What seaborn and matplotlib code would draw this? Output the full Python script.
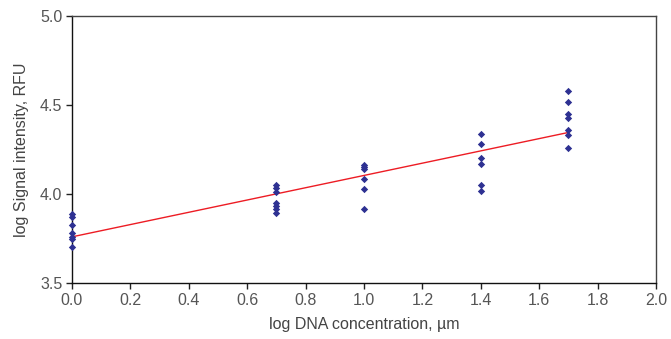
import numpy as np
import pandas as pd
import matplotlib
matplotlib.use("Agg")
import matplotlib.pyplot as plt
import seaborn as sns

# Data
conc_0 = [3.888, 3.871, 3.826, 3.781, 3.758, 3.747, 3.702]
conc_07 = [4.051, 4.034, 4.011, 3.949, 3.933, 3.916, 3.893]
conc_10 = [4.163, 4.150, 4.140, 4.084, 4.028, 3.916]
conc_14 = [4.337, 4.281, 4.202, 4.169, 4.051, 4.017]
conc_17 = [4.579, 4.517, 4.449, 4.427, 4.360, 4.331, 4.258]
x_levels = [0.0, 0.7, 1.0, 1.4, 1.7]
groups = [conc_0, conc_07, conc_10, conc_14, conc_17]

xs, ys = [], []
for xv, g in zip(x_levels, groups):
    xs += [xv] * len(g)
    ys += g
df = pd.DataFrame({"x": xs, "y": ys})

sns.set_theme(style="ticks")
plt.rcParams["font.family"] = ["Liberation Sans", "DejaVu Sans"]

fig = plt.figure(figsize=(6.71, 3.39), dpi=100)
ax = fig.add_axes([0.1073, 0.1652, 0.8703, 0.7876])

sns.regplot(data=df, x="x", y="y", ax=ax, ci=None, truncate=True, marker="D",
            scatter_kws=dict(s=14, color="#2e3192", alpha=1, linewidths=0,
                             zorder=3, clip_on=False),
            line_kws=dict(color="#ed1c24", lw=1.0, zorder=2, clip_on=False))

ax.set_xlim(0, 2.0)
ax.set_ylim(3.5, 5.0)
ax.set_xticks(np.arange(0, 2.01, 0.2))
ax.set_yticks([3.5, 4.0, 4.5, 5.0])
ax.xaxis.set_major_formatter(matplotlib.ticker.FormatStrFormatter("%.1f"))
ax.yaxis.set_major_formatter(matplotlib.ticker.FormatStrFormatter("%.1f"))
ax.tick_params(direction="out", length=4, width=1, colors="#222222",
               labelsize=11.5, labelcolor="#555555", pad=3)
for s in ["left", "bottom"]:
    ax.spines[s].set_color("#111111")
    ax.spines[s].set_linewidth(1.0)
for s in ["top", "right"]:
    ax.spines[s].set_visible(True)
    ax.spines[s].set_color("#444444")
    ax.spines[s].set_linewidth(1.0)
ax.set_xlabel("log DNA concentration, µm", fontsize=11.5, color="#444444", labelpad=7)
ax.set_ylabel("log Signal intensity, RFU", fontsize=11.5, color="#444444", labelpad=8)

fig.savefig("out.png", dpi=100)
